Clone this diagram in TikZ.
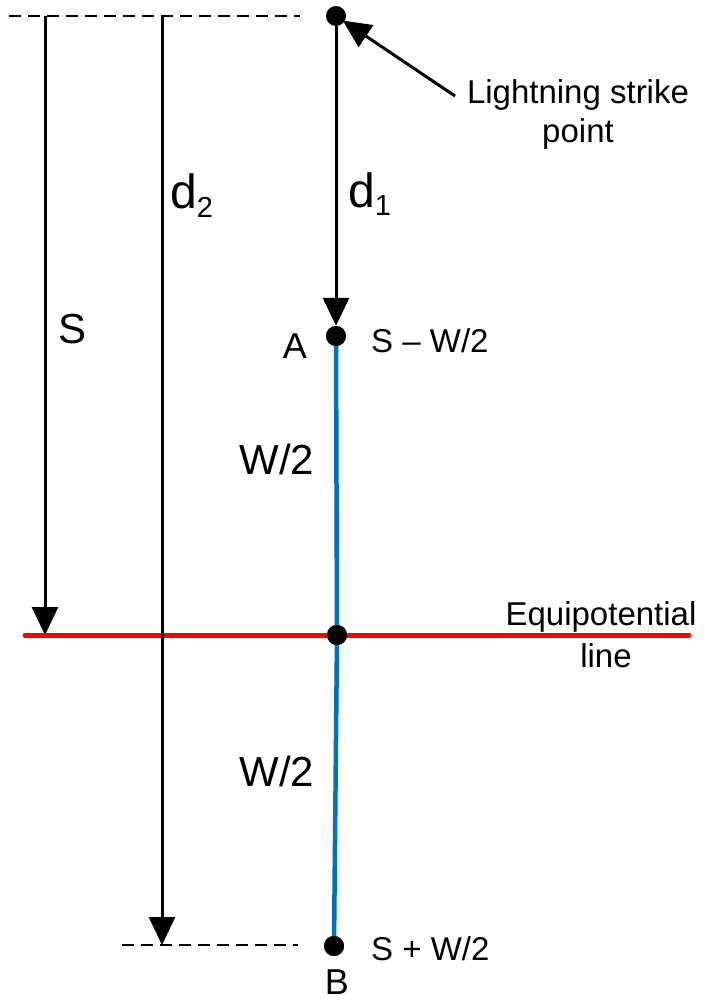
\documentclass[tikz,border=0pt]{standalone}
\usepackage{fontspec}
\setmainfont{Liberation Sans}
\usetikzlibrary{arrows.meta}
\definecolor{lineblue}{RGB}{0,112,192}
\definecolor{linered}{RGB}{255,0,0}
\begin{document}
\begin{tikzpicture}[x=1pt,y=-1pt,
  ln/.style={line width=3pt},
  arr/.style={ln,-{Triangle[width=26pt,length=28pt]}},
  dashln/.style={line width=2.5pt,dash pattern=on 12pt off 7pt},
  dotn/.style={circle,fill=black,inner sep=0pt,minimum size=20pt},
  lbl/.style={inner sep=0pt,anchor=base},
  fs/.style={font=\fontsize{#1}{#1}\selectfont}
]
\useasboundingbox (0,0) rectangle (704,1000);
% coordinates
\coordinate (ltop) at (9,16);
\coordinate (rtop) at (300,16);
\coordinate (Stop) at (45,16);
\coordinate (Sbot) at (45,635);
\coordinate (dtop) at (162,16);
\coordinate (dbot) at (162,945);
\coordinate (bl) at (122,945);
\coordinate (br) at (298,945);
\coordinate (redL) at (25,635);
\coordinate (redR) at (689,635);
\coordinate (lt) at (455,96);
% dots
\node[dotn] (P) at (336,16) {};
\node[dotn] (A) at (336,336) {};
\node[dotn] (M) at (337,635) {};
\node[dotn] (B) at (334,946) {};
% lines
\draw[lineblue,line width=4.5pt] (A.center) -- (M.center);
\draw[lineblue,line width=4.5pt] (M.center) -- (B.center);
\draw[linered,line width=5pt,line cap=round] (redL) -- (redR);
\node[dotn] at (M) {};
\node[dotn] at (A) {};
\node[dotn] at (B) {};
\draw[dashln] (ltop) -- (rtop);
\draw[dashln] (bl) -- (br);
\draw[arr] (Stop) -- (Sbot);
\draw[arr] (dtop) -- (dbot);
\draw[arr] (P) -- (A);
\draw[arr,shorten >=-2pt] (lt) -- (P);
% labels
\node[lbl,fs=33] (ls) at (578,104) {Lightning strike};
\node[lbl,fs=33] (pt) at (578,143) {point};
\node[lbl,fs=48,anchor=base west] (d2) at (170,209) {d\raisebox{-9pt}{\fontsize{29}{29}\selectfont 2}};
\node[lbl,fs=48,anchor=base west] (d1) at (348,208) {d\raisebox{-7pt}{\fontsize{29}{29}\selectfont 1}};
\node[lbl,fs=42] (Sl) at (73,343) {S};
\node[lbl,fs=36] (Al) at (295,358) {A};
\node[lbl,fs=33,anchor=base west] (SmW) at (371,352) {S \textendash\ W/2};
\node[lbl,fs=42] (W1) at (277,474) {W/2};
\node[lbl,fs=42] (W2) at (277,786) {W/2};
\node[lbl,fs=33] (eq) at (601,625) {Equipotential};
\node[lbl,fs=33] (li) at (606,667) {line};
\node[lbl,fs=33,anchor=base west] (SpW) at (371,960) {S + W/2};
\node[lbl,fs=36] (Bl) at (337,994) {B};
\end{tikzpicture}
\end{document}
